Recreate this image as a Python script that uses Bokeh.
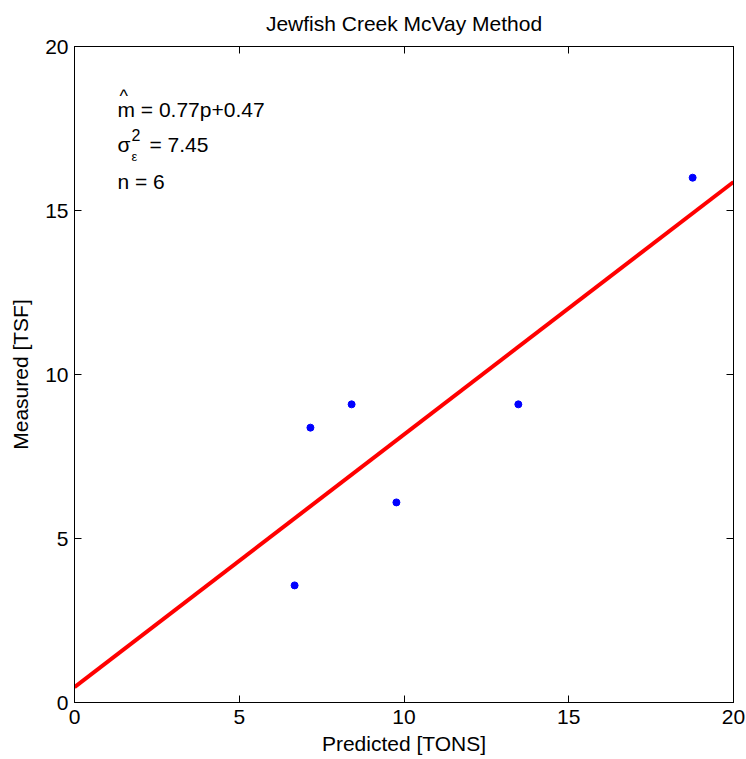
from bokeh.plotting import figure
from bokeh.models import LinearAxis, Range1d, Label, FixedTicker
from bokeh.embed import file_html
from bokeh.resources import INLINE

predicted = [6.68, 7.16, 8.41, 9.77, 13.47, 18.76]
measured = [3.57, 8.38, 9.09, 6.10, 9.09, 16.0]
slope = 0.77
intercept = 0.47
fit_x = [0, 20]
fit_y = [intercept + slope * v for v in fit_x]
ticks = [0, 5, 10, 15, 20]

FONT = "Liberation Sans"
FS = "21px"

p = figure(width=746, height=759, output_backend="svg", toolbar_location=None,
           x_range=Range1d(0, 20), y_range=Range1d(0, 20),
           min_border_left=74, min_border_right=13, min_border_top=46, min_border_bottom=57,
           x_axis_label="Predicted [TONS]", y_axis_label="Measured [TSF]")
p.title.text = "Jewfish Creek McVay Method"
p.title.align = "center"
p.title.vertical_align = "top"
p.title.text_font = FONT
p.title.text_font_size = FS
p.title.text_font_style = "normal"
p.title.text_color = "black"
p.title.offset = 0
p.title.standoff = 19

p.grid.visible = False
p.outline_line_color = "black"
p.outline_line_width = 1
p.background_fill_color = "white"
p.border_fill_color = "white"

for ax in p.xaxis + p.yaxis:
    ax.ticker = FixedTicker(ticks=ticks)
    ax.minor_tick_line_color = None
    ax.major_tick_in = 7
    ax.major_tick_out = 0
    ax.major_label_text_font = FONT
    ax.major_label_text_font_size = FS
    ax.major_label_text_color = "black"
    ax.axis_label_text_font = FONT
    ax.axis_label_text_font_size = FS
    ax.axis_label_text_font_style = "normal"
    ax.axis_label_text_color = "black"
    ax.axis_line_color = "black"
    ax.major_tick_line_color = "black"
p.xaxis.major_label_standoff = 7
p.yaxis.major_label_standoff = 6
p.xaxis.axis_label_standoff = 5
p.yaxis.axis_label_standoff = 10

for loc in ("above", "right"):
    ax = LinearAxis(ticker=FixedTicker(ticks=ticks))
    ax.major_label_overrides = {t: "" for t in ticks}
    ax.major_label_standoff = 0
    ax.minor_tick_line_color = None
    ax.major_tick_in = 7
    ax.major_tick_out = 0
    ax.axis_line_color = "black"
    ax.major_tick_line_color = "black"
    p.add_layout(ax, loc)

p.line(fit_x, fit_y, line_color="red", line_width=4)
p.scatter(predicted, measured, size=7, color="blue", line_color="blue")

def lab(text, x, y, size=FS):
    p.add_layout(Label(x=x, y=y, x_units="screen", y_units="screen", text=text,
                       text_font=FONT, text_font_size=size, text_color="black",
                       text_baseline="alphabetic"))

# screen offsets measured from the frame's lower-left corner
lab("m = %.2fp+%.2f" % (slope, intercept), 43, 656 - 63)
lab("^", 45, 656 - 49, "18px")
lab("σ", 43, 656 - 98)
lab("2", 57, 656 - 88, "16px")
lab("ε", 57, 656 - 110, "13px")
lab("= 7.45", 75, 656 - 98)
lab("n = %d" % len(predicted), 43, 656 - 135)

open("out.html", "w").write(file_html(p, INLINE))
